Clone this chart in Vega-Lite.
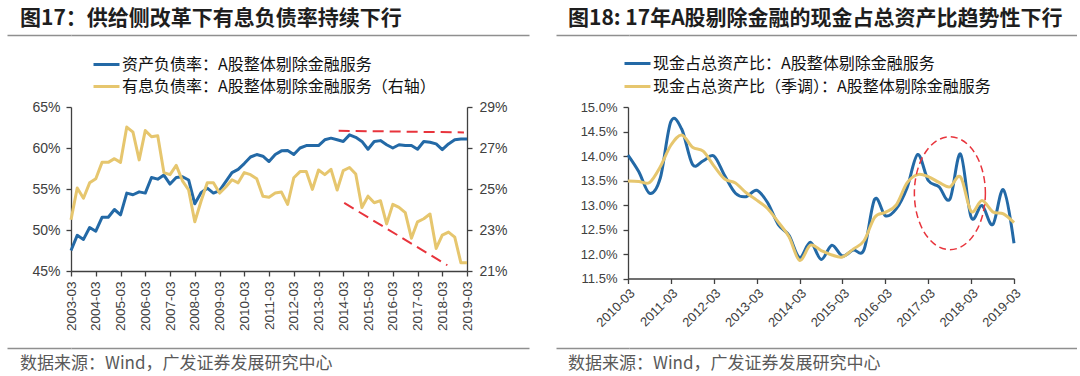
{
  "$schema": "https://vega.github.io/schema/vega-lite/v6.json",
  "padding": {"left": 6, "top": 8, "right": 0, "bottom": 4},
  "background": "white",
  "config": {
    "view": {"stroke": null},
    "font": "Noto Sans CJK SC",
    "axis": {"labelFont": "Liberation Sans", "labelColor": "#404040", "domainColor": "#404040", "tickColor": "#404040", "domainWidth": 1.3, "tickWidth": 1.3, "tickSize": 5, "grid": false}
  },
  "datasets": {
    "left": [
      {"date": "2003-03", "debt": 47.5, "ibd": 23.5},
      {"date": "2003-06", "debt": 49.35, "ibd": 25.05},
      {"date": "2003-09", "debt": 48.85, "ibd": 24.55},
      {"date": "2003-12", "debt": 50.3, "ibd": 25.3},
      {"date": "2004-03", "debt": 49.85, "ibd": 25.5},
      {"date": "2004-06", "debt": 51.55, "ibd": 26.3},
      {"date": "2004-09", "debt": 51.55, "ibd": 26.3},
      {"date": "2004-12", "debt": 52.5, "ibd": 26.48},
      {"date": "2005-03", "debt": 51.85, "ibd": 26.3},
      {"date": "2005-06", "debt": 54.5, "ibd": 28.02},
      {"date": "2005-09", "debt": 54.3, "ibd": 27.77},
      {"date": "2005-12", "debt": 54.65, "ibd": 26.42},
      {"date": "2006-03", "debt": 54.5, "ibd": 27.85},
      {"date": "2006-06", "debt": 56.4, "ibd": 27.55},
      {"date": "2006-09", "debt": 56.2, "ibd": 27.6},
      {"date": "2006-12", "debt": 56.7, "ibd": 25.8},
      {"date": "2007-03", "debt": 55.6, "ibd": 25.7},
      {"date": "2007-06", "debt": 56.4, "ibd": 26.15},
      {"date": "2007-09", "debt": 56.5, "ibd": 25.4},
      {"date": "2007-12", "debt": 56.1, "ibd": 24.95},
      {"date": "2008-03", "debt": 53.2, "ibd": 23.4},
      {"date": "2008-06", "debt": 54.55, "ibd": 24.4},
      {"date": "2008-09", "debt": 55.1, "ibd": 25.3},
      {"date": "2008-12", "debt": 54.5, "ibd": 25.3},
      {"date": "2009-03", "debt": 54.8, "ibd": 24.8},
      {"date": "2009-06", "debt": 55.9, "ibd": 25.1},
      {"date": "2009-09", "debt": 57.0, "ibd": 25.45},
      {"date": "2009-12", "debt": 57.4, "ibd": 25.3},
      {"date": "2010-03", "debt": 58.1, "ibd": 25.8},
      {"date": "2010-06", "debt": 58.9, "ibd": 25.7},
      {"date": "2010-09", "debt": 59.2, "ibd": 25.5},
      {"date": "2010-12", "debt": 59.0, "ibd": 24.65},
      {"date": "2011-03", "debt": 58.35, "ibd": 24.6},
      {"date": "2011-06", "debt": 59.2, "ibd": 24.8},
      {"date": "2011-09", "debt": 59.65, "ibd": 24.85},
      {"date": "2011-12", "debt": 59.7, "ibd": 24.25},
      {"date": "2012-03", "debt": 59.2, "ibd": 25.55},
      {"date": "2012-06", "debt": 60.0, "ibd": 25.85},
      {"date": "2012-09", "debt": 60.3, "ibd": 25.85},
      {"date": "2012-12", "debt": 60.3, "ibd": 24.98},
      {"date": "2013-03", "debt": 60.3, "ibd": 25.93},
      {"date": "2013-06", "debt": 61.0, "ibd": 25.7},
      {"date": "2013-09", "debt": 61.2, "ibd": 25.96},
      {"date": "2013-12", "debt": 61.0, "ibd": 24.95},
      {"date": "2014-03", "debt": 60.8, "ibd": 25.9},
      {"date": "2014-06", "debt": 61.6, "ibd": 26.05},
      {"date": "2014-09", "debt": 61.3, "ibd": 25.73},
      {"date": "2014-12", "debt": 60.8, "ibd": 24.1},
      {"date": "2015-03", "debt": 59.85, "ibd": 24.65},
      {"date": "2015-06", "debt": 60.8, "ibd": 24.33},
      {"date": "2015-09", "debt": 60.9, "ibd": 24.43},
      {"date": "2015-12", "debt": 60.4, "ibd": 23.3},
      {"date": "2016-03", "debt": 60.0, "ibd": 24.25},
      {"date": "2016-06", "debt": 60.4, "ibd": 24.1},
      {"date": "2016-09", "debt": 60.3, "ibd": 23.85},
      {"date": "2016-12", "debt": 60.3, "ibd": 22.6},
      {"date": "2017-03", "debt": 59.85, "ibd": 23.4},
      {"date": "2017-06", "debt": 60.8, "ibd": 23.55},
      {"date": "2017-09", "debt": 60.7, "ibd": 23.78},
      {"date": "2017-12", "debt": 60.5, "ibd": 22.1},
      {"date": "2018-03", "debt": 59.8, "ibd": 22.75},
      {"date": "2018-06", "debt": 60.5, "ibd": 22.9},
      {"date": "2018-09", "debt": 61.0, "ibd": 22.65},
      {"date": "2018-12", "debt": 61.1, "ibd": 21.4},
      {"date": "2019-03", "debt": 61.1, "ibd": 21.4}
    ],
    "right": [
      {"date": "2010-03", "cash": 14.02, "cashsa": 13.49},
      {"date": "2010-06", "cash": 13.68, "cashsa": 13.48},
      {"date": "2010-09", "cash": 13.24, "cashsa": 13.46},
      {"date": "2010-12", "cash": 13.55, "cashsa": 13.78},
      {"date": "2011-03", "cash": 14.7, "cashsa": 14.22},
      {"date": "2011-06", "cash": 14.55, "cashsa": 14.43},
      {"date": "2011-09", "cash": 13.83, "cashsa": 14.18},
      {"date": "2011-12", "cash": 13.9, "cashsa": 14.1},
      {"date": "2012-03", "cash": 14.0, "cashsa": 13.8},
      {"date": "2012-06", "cash": 13.6, "cashsa": 13.53},
      {"date": "2012-09", "cash": 13.24, "cashsa": 13.45},
      {"date": "2012-12", "cash": 13.17, "cashsa": 13.25},
      {"date": "2013-03", "cash": 13.3, "cashsa": 13.1},
      {"date": "2013-06", "cash": 13.05, "cashsa": 12.93},
      {"date": "2013-09", "cash": 12.6, "cashsa": 12.65},
      {"date": "2013-12", "cash": 12.38, "cashsa": 12.35},
      {"date": "2014-03", "cash": 11.93, "cashsa": 11.87},
      {"date": "2014-06", "cash": 12.24, "cashsa": 12.18},
      {"date": "2014-09", "cash": 11.89, "cashsa": 12.07},
      {"date": "2014-12", "cash": 12.18, "cashsa": 11.98},
      {"date": "2015-03", "cash": 11.96, "cashsa": 11.94},
      {"date": "2015-06", "cash": 12.08, "cashsa": 12.1},
      {"date": "2015-09", "cash": 12.09, "cashsa": 12.27},
      {"date": "2015-12", "cash": 13.12, "cashsa": 12.75},
      {"date": "2016-03", "cash": 12.78, "cashsa": 12.85},
      {"date": "2016-06", "cash": 12.92, "cashsa": 13.0},
      {"date": "2016-09", "cash": 13.35, "cashsa": 13.45},
      {"date": "2016-12", "cash": 14.03, "cashsa": 13.62},
      {"date": "2017-03", "cash": 13.5, "cashsa": 13.58},
      {"date": "2017-06", "cash": 13.37, "cashsa": 13.46},
      {"date": "2017-09", "cash": 13.12, "cashsa": 13.37},
      {"date": "2017-12", "cash": 14.04, "cashsa": 13.57},
      {"date": "2018-03", "cash": 12.75, "cashsa": 12.87},
      {"date": "2018-06", "cash": 12.99, "cashsa": 13.09},
      {"date": "2018-09", "cash": 12.6, "cashsa": 12.86},
      {"date": "2018-12", "cash": 13.31, "cashsa": 12.82},
      {"date": "2019-03", "cash": 12.22, "cashsa": 12.64}
    ]
  },
  "vconcat": [
    {
      "hconcat": [
        {
          "width": 458, "height": 1,
          "data": {"values": []},
          "mark": {"type": "text"},
          "encoding": {
            "x": {"datum": 0, "type": "quantitative", "scale": {"domain": [0, 1]},
              "axis": {"orient": "bottom", "ticks": false, "labels": false, "domain": true, "domainColor": "#8f8f8f", "domainWidth": 1.5, "title": null, "grid": false}},
            "y": {"datum": 0, "type": "quantitative", "scale": {"domain": [0, 1]},
              "axis": {"orient": "left", "values": [0], "labels": false, "domain": false, "ticks": true, "tickSize": 64, "tickColor": "#8f8f8f", "tickWidth": 1.5, "title": null, "grid": false}}
          },
          "title": {"text": "图17：供给侧改革下有息负债率持续下行", "anchor": "start", "frame": "group", "dx": -51, "offset": 5, "fontSize": 21, "fontWeight": "bold", "font": "Noto Sans CJK SC", "color": "#1e1e1e"}
        },
        {
          "width": 448, "height": 1,
          "data": {"values": []},
          "mark": {"type": "text"},
          "encoding": {
            "x": {"datum": 0, "type": "quantitative", "scale": {"domain": [0, 1]},
              "axis": {"orient": "bottom", "ticks": false, "labels": false, "domain": true, "domainColor": "#8f8f8f", "domainWidth": 1.5, "title": null, "grid": false}},
            "y": {"datum": 0, "type": "quantitative", "scale": {"domain": [0, 1]},
              "axis": {"orient": "left", "values": [0], "labels": false, "domain": false, "ticks": true, "tickSize": 73, "tickColor": "#8f8f8f", "tickWidth": 1.5, "title": null, "grid": false}}
          },
          "title": {"text": "图18: 17年A股剔除金融的现金占总资产比趋势性下行", "anchor": "start", "frame": "group", "dx": -61, "offset": 5, "fontSize": 21, "fontWeight": "bold", "font": "Noto Sans CJK SC", "color": "#1e1e1e"}
        }
      ],
      "spacing": 26
    },
    {
      "hconcat": [
        {
          "width": 396, "height": 164,
          "data": {"name": "left"},
          "encoding": {
            "x": {"field": "date", "type": "temporal", "title": null,
              "scale": {"type": "utc", "domain": [{"year": 2003, "month": 3, "date": 1, "utc": true}, {"year": 2019, "month": 3, "date": 1, "utc": true}]},
              "axis": {"values": [
                {"year": 2003, "month": 3, "date": 1, "utc": true}, {"year": 2004, "month": 3, "date": 1, "utc": true}, {"year": 2005, "month": 3, "date": 1, "utc": true},
                {"year": 2006, "month": 3, "date": 1, "utc": true}, {"year": 2007, "month": 3, "date": 1, "utc": true}, {"year": 2008, "month": 3, "date": 1, "utc": true},
                {"year": 2009, "month": 3, "date": 1, "utc": true}, {"year": 2010, "month": 3, "date": 1, "utc": true}, {"year": 2011, "month": 3, "date": 1, "utc": true},
                {"year": 2012, "month": 3, "date": 1, "utc": true}, {"year": 2013, "month": 3, "date": 1, "utc": true}, {"year": 2014, "month": 3, "date": 1, "utc": true},
                {"year": 2015, "month": 3, "date": 1, "utc": true}, {"year": 2016, "month": 3, "date": 1, "utc": true}, {"year": 2017, "month": 3, "date": 1, "utc": true},
                {"year": 2018, "month": 3, "date": 1, "utc": true}, {"year": 2019, "month": 3, "date": 1, "utc": true}],
                "labelExpr": "utcFormat(datum.value, '%Y-%m')", "labelAngle": 270, "labelFontSize": 13.5, "labelPadding": 5,
                "labelOverlap": false, "labelFlush": false, "labelBound": false, "minExtent": 60, "title": null}}
          },
          "layer": [
            {
              "layer": [
                {
                  "mark": {"type": "line", "strokeWidth": 3, "strokeJoin": "round"},
                  "encoding": {
                    "y": {"field": "debt", "type": "quantitative", "title": null,
                      "scale": {"domain": [45, 65], "zero": false, "nice": false},
                      "axis": {"orient": "left", "values": [45, 50, 55, 60, 65], "labelExpr": "datum.value + '%'", "labelFontSize": 14, "labelPadding": 6, "minExtent": 64, "labelOverlap": false, "title": null}},
                    "color": {"datum": "资产负债率：A股整体剔除金融服务", "type": "nominal",
                      "scale": {"domain": ["资产负债率：A股整体剔除金融服务", "有息负债率：A股整体剔除金融服务（右轴）"], "range": ["#2369A6", "#E6C66E"]},
                      "legend": {"orient": "none", "legendX": 24, "legendY": -54, "direction": "vertical", "title": null,
                        "symbolType": "M-1.3,0L1.3,0", "symbolSize": 400, "symbolStrokeWidth": 3,
                        "labelFontSize": 16, "labelFont": "Noto Sans CJK SC", "labelColor": "#111111", "labelLimit": 600, "rowPadding": 2, "labelOffset": 4}}
                  }
                },
                {
                  "data": {"values": [
                    {"x1": "2013-12-23", "x2": "2019-01-15", "y1": 62.1, "y2": 61.9},
                    {"x1": "2014-03-15", "x2": "2018-05-15", "y1": 53.3, "y2": 45.7}
                  ], "format": {"parse": {"x1": "date", "x2": "date"}}},
                  "mark": {"type": "rule", "color": "#E8343C", "strokeWidth": 2, "strokeDash": [11, 6]},
                  "encoding": {
                    "x": {"field": "x1", "type": "temporal", "title": null,
                      "axis": {"values": [
                        {"year": 2003, "month": 3, "date": 1, "utc": true}, {"year": 2004, "month": 3, "date": 1, "utc": true}, {"year": 2005, "month": 3, "date": 1, "utc": true},
                        {"year": 2006, "month": 3, "date": 1, "utc": true}, {"year": 2007, "month": 3, "date": 1, "utc": true}, {"year": 2008, "month": 3, "date": 1, "utc": true},
                        {"year": 2009, "month": 3, "date": 1, "utc": true}, {"year": 2010, "month": 3, "date": 1, "utc": true}, {"year": 2011, "month": 3, "date": 1, "utc": true},
                        {"year": 2012, "month": 3, "date": 1, "utc": true}, {"year": 2013, "month": 3, "date": 1, "utc": true}, {"year": 2014, "month": 3, "date": 1, "utc": true},
                        {"year": 2015, "month": 3, "date": 1, "utc": true}, {"year": 2016, "month": 3, "date": 1, "utc": true}, {"year": 2017, "month": 3, "date": 1, "utc": true},
                        {"year": 2018, "month": 3, "date": 1, "utc": true}, {"year": 2019, "month": 3, "date": 1, "utc": true}],
                        "labelExpr": "utcFormat(datum.value, '%Y-%m')", "labelAngle": 270, "labelFontSize": 13.5, "labelPadding": 5,
                        "labelOverlap": false, "labelFlush": false, "labelBound": false, "minExtent": 60, "title": null}},
                    "x2": {"field": "x2"},
                    "y": {"field": "y1", "type": "quantitative", "title": null,
                      "axis": {"orient": "left", "values": [45, 50, 55, 60, 65], "labelExpr": "datum.value + '%'", "labelFontSize": 14, "labelPadding": 6, "minExtent": 64, "labelOverlap": false, "title": null}},
                    "y2": {"field": "y2"}
                  }
                }
              ]
            },
            {
              "mark": {"type": "line", "strokeWidth": 3, "strokeJoin": "round"},
              "encoding": {
                "y": {"field": "ibd", "type": "quantitative", "title": null,
                  "scale": {"domain": [21, 29], "zero": false, "nice": false},
                  "axis": {"orient": "right", "values": [21, 23, 25, 27, 29], "labelExpr": "datum.value + '%'", "labelFontSize": 14, "labelPadding": 7, "minExtent": 62, "labelOverlap": false, "title": null}},
                "color": {"datum": "有息负债率：A股整体剔除金融服务（右轴）", "type": "nominal",
                  "scale": {"domain": ["资产负债率：A股整体剔除金融服务", "有息负债率：A股整体剔除金融服务（右轴）"], "range": ["#2369A6", "#E6C66E"]}}
              }
            }
          ],
          "resolve": {"scale": {"y": "independent"}}
        },
        {
          "width": 386, "height": 171.5,
          "data": {"name": "right"},
          "encoding": {
            "x": {"field": "date", "type": "temporal", "title": null,
              "scale": {"type": "utc", "domain": [{"year": 2010, "month": 3, "date": 1, "utc": true}, {"year": 2019, "month": 3, "date": 1, "utc": true}]},
              "axis": {"values": [
                {"year": 2010, "month": 3, "date": 1, "utc": true}, {"year": 2011, "month": 3, "date": 1, "utc": true}, {"year": 2012, "month": 3, "date": 1, "utc": true},
                {"year": 2013, "month": 3, "date": 1, "utc": true}, {"year": 2014, "month": 3, "date": 1, "utc": true}, {"year": 2015, "month": 3, "date": 1, "utc": true},
                {"year": 2016, "month": 3, "date": 1, "utc": true}, {"year": 2017, "month": 3, "date": 1, "utc": true}, {"year": 2018, "month": 3, "date": 1, "utc": true},
                {"year": 2019, "month": 3, "date": 1, "utc": true}],
                "labelExpr": "utcFormat(datum.value, '%Y-%m')", "labelAngle": 315, "labelFontSize": 13, "labelPadding": 3,
                "labelOverlap": false, "labelFlush": false, "labelBound": false, "minExtent": 52.5, "title": null}}
          },
          "layer": [
            {
              "mark": {"type": "line", "strokeWidth": 3, "interpolate": "cardinal"},
              "encoding": {
                "y": {"field": "cash", "type": "quantitative", "title": null,
                  "scale": {"domain": [11.5, 15], "zero": false, "nice": false},
                  "axis": {"values": [11.5, 12, 12.5, 13, 13.5, 14, 14.5, 15], "labelExpr": "format(datum.value, '.1f') + '%'", "labelFontSize": 13, "labelPadding": 6, "minExtent": 73, "labelOverlap": false, "title": null}},
                "color": {"datum": "现金占总资产比：A股整体剔除金融服务", "type": "nominal",
                  "scale": {"domain": ["现金占总资产比：A股整体剔除金融服务", "现金占总资产比（季调）：A股整体剔除金融服务"], "range": ["#2369A6", "#E6C66E"]},
                  "legend": {"orient": "none", "legendX": -2, "legendY": -55, "direction": "vertical", "title": null,
                    "symbolType": "M-1.3,0L1.3,0", "symbolSize": 400, "symbolStrokeWidth": 3,
                    "labelFontSize": 16, "labelFont": "Noto Sans CJK SC", "labelColor": "#111111", "labelLimit": 600, "rowPadding": 3, "labelOffset": 4}}
              }
            },
            {
              "mark": {"type": "line", "strokeWidth": 3, "interpolate": "cardinal"},
              "encoding": {
                "y": {"field": "cashsa", "type": "quantitative", "title": null,
                  "axis": {"values": [11.5, 12, 12.5, 13, 13.5, 14, 14.5, 15], "labelExpr": "format(datum.value, '.1f') + '%'", "labelFontSize": 13, "labelPadding": 6, "minExtent": 73, "labelOverlap": false, "title": null}},
                "color": {"datum": "现金占总资产比（季调）：A股整体剔除金融服务", "type": "nominal",
                  "scale": {"domain": ["现金占总资产比：A股整体剔除金融服务", "现金占总资产比（季调）：A股整体剔除金融服务"], "range": ["#2369A6", "#E6C66E"]}}
              }
            },
            {
              "data": {"values": [{"date": "2017-09", "v": 13.24}], "format": {"parse": {"date": "date"}}},
              "mark": {"type": "point", "shape": "M1,0C1,0.878,0.552,1.59,0,1.59C-0.552,1.59,-1,0.878,-1,0C-1,-0.878,-0.552,-1.59,0,-1.59C0.552,-1.59,1,-0.878,1,0Z",
                "size": 5041, "filled": false, "color": "#E8343C", "strokeWidth": 1.5, "strokeDash": [7, 4], "opacity": 1},
              "encoding": {
                "y": {"field": "v", "type": "quantitative", "title": null,
                  "axis": {"values": [11.5, 12, 12.5, 13, 13.5, 14, 14.5, 15], "labelExpr": "format(datum.value, '.1f') + '%'", "labelFontSize": 13, "labelPadding": 6, "minExtent": 73, "labelOverlap": false, "title": null}}
              }
            }
          ]
        }
      ],
      "spacing": 26,
      "resolve": {"scale": {"color": "independent"}}
    },
    {
      "hconcat": [
        {
          "width": 458, "height": 1,
          "data": {"values": []},
          "mark": {"type": "text"},
          "encoding": {
            "x": {"datum": 0, "type": "quantitative", "scale": {"domain": [0, 1]},
              "axis": {"orient": "top", "ticks": false, "labels": false, "domain": true, "domainColor": "#8f8f8f", "domainWidth": 1.5, "title": null, "grid": false}},
            "y": {"datum": 0, "type": "quantitative", "scale": {"domain": [0, 1]},
              "axis": {"orient": "left", "values": [1], "labels": false, "domain": false, "ticks": true, "tickSize": 64, "tickColor": "#8f8f8f", "tickWidth": 1.5, "title": null, "grid": false}}
          },
          "title": {"text": "数据来源：Wind，广发证券发展研究中心", "orient": "bottom", "anchor": "start", "frame": "group", "dx": -51, "offset": 7, "fontSize": 17, "fontWeight": "normal", "font": "Noto Sans CJK SC", "color": "#595959"}
        },
        {
          "width": 448, "height": 1,
          "data": {"values": []},
          "mark": {"type": "text"},
          "encoding": {
            "x": {"datum": 0, "type": "quantitative", "scale": {"domain": [0, 1]},
              "axis": {"orient": "top", "ticks": false, "labels": false, "domain": true, "domainColor": "#8f8f8f", "domainWidth": 1.5, "title": null, "grid": false}},
            "y": {"datum": 0, "type": "quantitative", "scale": {"domain": [0, 1]},
              "axis": {"orient": "left", "values": [1], "labels": false, "domain": false, "ticks": true, "tickSize": 73, "tickColor": "#8f8f8f", "tickWidth": 1.5, "title": null, "grid": false}}
          },
          "title": {"text": "数据来源：Wind，广发证券发展研究中心", "orient": "bottom", "anchor": "start", "frame": "group", "dx": -61, "offset": 7, "fontSize": 17, "fontWeight": "normal", "font": "Noto Sans CJK SC", "color": "#595959"}
        }
      ],
      "spacing": 26
    }
  ],
  "spacing": 16,
  "resolve": {"scale": {"color": "independent"}}
}
